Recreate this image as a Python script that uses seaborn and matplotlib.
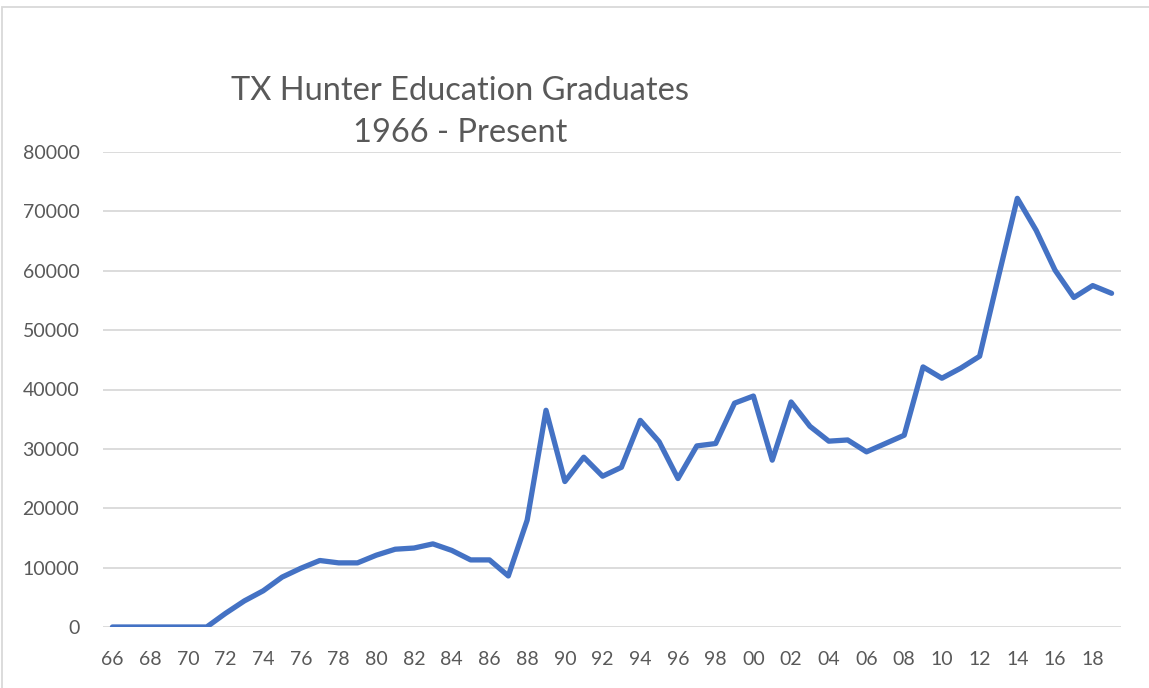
import matplotlib
matplotlib.use("Agg")
import matplotlib.pyplot as plt
import seaborn as sns
import pandas as pd
from matplotlib.patches import Rectangle

years = list(range(1966, 2020))
graduates = [0, 0, 0, 0, 0, 0, 2300, 4400, 6100, 8400, 9900, 11200, 10800, 10800,
             12100, 13100, 13300, 14000, 12900, 11300, 11300, 8600, 18000, 36500,
             24500, 28600, 25400, 26900, 34800, 31200, 25000, 30500, 30900, 37700,
             38900, 28100, 37900, 33800, 31300, 31500, 29500, 30900, 32300, 43800,
             41900, 43600, 45600, 59000, 72200, 66800, 60100, 55500, 57500, 56200]
tick_years = list(range(1966, 2019, 2))
tick_labels = [f"{y % 100:02d}" for y in tick_years]
y_ticks = list(range(0, 80001, 10000))
title_text = "TX Hunter Education Graduates\n1966 - Present"

df = pd.DataFrame({"year": years, "graduates": graduates})

sns.set_theme(style="white")
plt.rcParams["font.family"] = ["Lato", "DejaVu Sans"]

fig = plt.figure(figsize=(11.49, 6.88), dpi=100)
ax = fig.add_axes([103 / 1149, (688 - 627) / 688, (1121 - 103) / 1149, (627 - 152) / 688])

sns.lineplot(data=df, x="year", y="graduates", ax=ax, color="#4472C4",
             linewidth=3.8, solid_joinstyle="round", solid_capstyle="round")

ax.set_xlim(1965.5, 2019.5)
ax.set_ylim(0, 80000)
ax.set_xticks(tick_years)
ax.set_xticklabels(tick_labels)
ax.set_yticks(y_ticks)
ax.set_yticklabels([str(v) for v in y_ticks])
ax.set_xlabel("")
ax.set_ylabel("")
ax.tick_params(axis="both", length=0, labelsize=14, colors="#595959")
ax.tick_params(axis="x", pad=17)
ax.tick_params(axis="y", pad=17)
for s in ax.spines.values():
    s.set_visible(False)
ax.yaxis.grid(True, color="#D9D9D9", linewidth=1.3)
ax.xaxis.grid(False)
ax.set_axisbelow(True)

fig.text(460 / 1149, 1 - 112 / 688, title_text, ha="center", va="center",
         fontsize=23.5, color="#595959", linespacing=1.5)

fig.patches.append(Rectangle((2 / 1149, -0.01), 1.2, 1 - 7 / 688 + 0.01,
                             transform=fig.transFigure, fill=False,
                             edgecolor="#D9D9D9", linewidth=1.3))

fig.savefig("out.png", dpi=100)
